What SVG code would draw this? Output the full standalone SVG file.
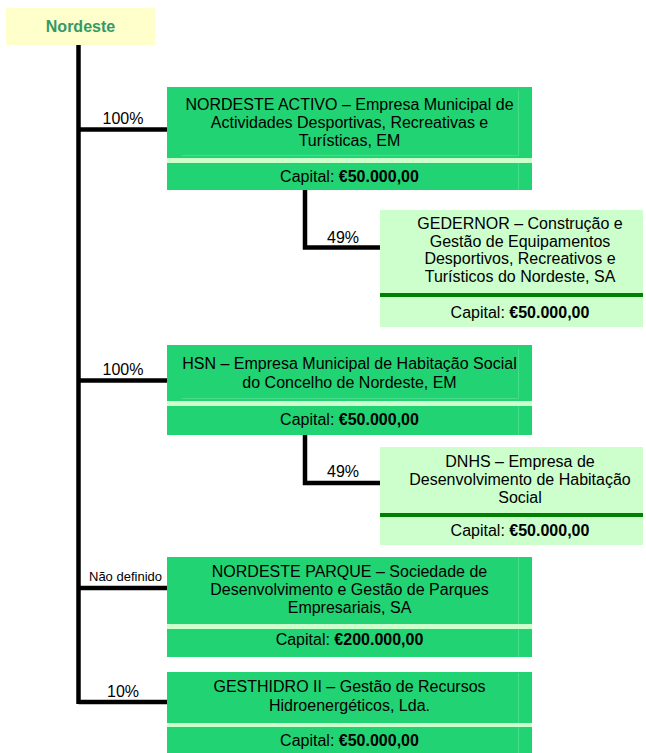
<svg xmlns="http://www.w3.org/2000/svg" width="646" height="753" viewBox="0 0 646 753">
<style>
text{font-family:"Liberation Sans",Arial,sans-serif;font-size:16px;fill:#000;text-anchor:middle}
.main{fill:#22D373}
.strip{fill:#CCFFCC}
.sub{fill:#CCFFCC}
.dark{fill:#008000}
.inner{stroke:#45DC8A;stroke-width:1;fill:none}
.b{font-weight:bold}
.conn{stroke:#000;stroke-width:4.5;fill:none;stroke-linecap:butt;stroke-linejoin:miter}
</style>
<rect width="646" height="753" fill="#fff"/>
<g id="connectors">
<path class="conn" d="M78.5,45 V704"/>
<path class="conn" d="M78.5,129.5 H167"/>
<path class="conn" d="M78.5,380.5 H167"/>
<path class="conn" d="M78.5,588 H167"/>
<path class="conn" d="M78.5,702 H167"/>
<path class="conn" d="M305,190 V247.5 H380"/>
<path class="conn" d="M305,435 V483 H380"/>
<text x="123" y="124">100%</text>
<text x="123" y="375">100%</text>
<text x="162" y="581" style="font-size:13px;text-anchor:end">Não definido</text>
<text x="123" y="697">10%</text>
<text x="343" y="243">49%</text>
<text x="343" y="477">49%</text>
</g>
<g id="nordeste">
<rect x="6" y="8" width="149" height="37" fill="#FFFFCC"/>
<text x="80.5" y="32" class="b" style="fill:#339966">Nordeste</text>
</g>
<g id="nordeste-activo">
<rect class="main" x="167" y="87" width="365" height="71"/>
<rect class="strip" x="167" y="158" width="365" height="5"/>
<rect class="main" x="167" y="163" width="365" height="27"/>
<path class="inner" d="M182,155.5 H518.5 V90 M518.5,163 V190"/>
<text x="349.5" y="110">NORDESTE ACTIVO – Empresa Municipal de</text>
<text x="349.5" y="128">Actividades Desportivas, Recreativas e</text>
<text x="349.5" y="146">Turísticas, EM</text>
<text x="349.5" y="182">Capital: <tspan class="b">€50.000,00</tspan></text>
</g>
<g id="gedernor">
<rect class="sub" x="380" y="210" width="263" height="83"/>
<rect class="dark" x="380" y="293" width="263" height="4"/>
<rect class="sub" x="380" y="297" width="263" height="30"/>
<text x="520" y="229">GEDERNOR – Construção e</text>
<text x="520" y="246.5">Gestão de Equipamentos</text>
<text x="520" y="264">Desportivos, Recreativos e</text>
<text x="520" y="281.5">Turísticos do Nordeste, SA</text>
<text x="520" y="318">Capital: <tspan class="b">€50.000,00</tspan></text>
</g>
<g id="hsn">
<rect class="main" x="167" y="345" width="365" height="56"/>
<rect class="strip" x="167" y="401" width="365" height="5"/>
<rect class="main" x="167" y="406" width="365" height="29"/>
<path class="inner" d="M182,398.5 H518.5 V349 M518.5,406 V435"/>
<text x="349.5" y="369">HSN – Empresa Municipal de Habitação Social</text>
<text x="349.5" y="387.5">do Concelho de Nordeste, EM</text>
<text x="349.5" y="425">Capital: <tspan class="b">€50.000,00</tspan></text>
</g>
<g id="dnhs">
<rect class="sub" x="380" y="447" width="263" height="66"/>
<rect class="dark" x="380" y="513" width="263" height="4"/>
<rect class="sub" x="380" y="517" width="263" height="28"/>
<text x="520" y="467">DNHS – Empresa de</text>
<text x="520" y="485">Desenvolvimento de Habitação</text>
<text x="520" y="503">Social</text>
<text x="520" y="536">Capital: <tspan class="b">€50.000,00</tspan></text>
</g>
<g id="nordeste-parque">
<rect class="main" x="167" y="557" width="365" height="67"/>
<rect class="strip" x="167" y="624" width="365" height="5"/>
<rect class="main" x="167" y="629" width="365" height="28"/>
<path class="inner" d="M518.5,557 V624 M518.5,629 V657"/>
<text x="349.5" y="577">NORDESTE PARQUE – Sociedade de</text>
<text x="349.5" y="595">Desenvolvimento e Gestão de Parques</text>
<text x="349.5" y="613">Empresariais, SA</text>
<text x="349.5" y="644.5">Capital: <tspan class="b">€200.000,00</tspan></text>
</g>
<g id="gesthidro">
<rect class="main" x="167" y="672" width="365" height="51"/>
<rect class="strip" x="167" y="723" width="365" height="4"/>
<rect class="main" x="167" y="727" width="365" height="26"/>
<path class="inner" d="M518.5,673 V723 M518.5,727 V753"/>
<text x="349.5" y="692">GESTHIDRO II – Gestão de Recursos</text>
<text x="349.5" y="710.5">Hidroenergéticos, Lda.</text>
<text x="349.5" y="746">Capital: <tspan class="b">€50.000,00</tspan></text>
</g>
</svg>
